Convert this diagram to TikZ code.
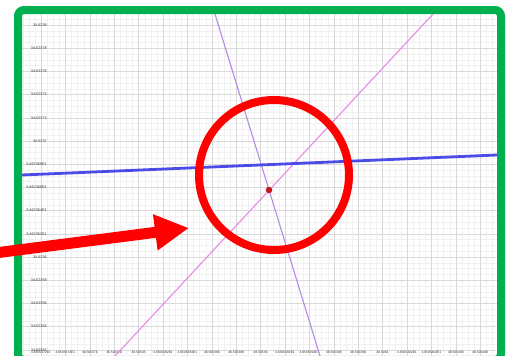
\documentclass[tikz,border=0pt]{standalone}
\usepackage{fontspec}
\setmainfont{Liberation Sans}
\usetikzlibrary{arrows.meta}
\definecolor{frameg}{HTML}{00B050}
\definecolor{lineblue}{HTML}{4B4BE8}
\definecolor{linelav}{HTML}{B48CE6}
\definecolor{linepink}{HTML}{E68CE6}
\definecolor{ptred}{HTML}{C8141E}
\definecolor{gmaj}{HTML}{D9D9D9}
\definecolor{gmin}{HTML}{F1F1F1}
\tikzset{
  ylab/.style={font=\fontsize{3.8}{4}\selectfont, text=black!80, anchor=east, inner sep=0pt},
  xlab/.style={font=\fontsize{3.3}{4}\selectfont, text=black!80, anchor=center, inner sep=0pt},
  framebox/.style={draw=frameg, line width=8pt, rounded corners=6pt},
}
\begin{document}
\begin{tikzpicture}[x=1pt,y=-1pt]
\useasboundingbox (0,0) rectangle (509,356);
\fill[white] (0,0) rectangle (509,356);
% grid
\begin{scope}
\clip (22,14) rectangle (497,356);
\foreach \i in {-8,...,80} {
  \draw[gmin, line width=0.4pt] ({41+24.4*\i/4},14) -- ({41+24.4*\i/4},356);
}
\foreach \j in {-4,...,60} {
  \draw[gmin, line width=0.4pt] (22,{25+23.2*\j/4}) -- (497,{25+23.2*\j/4});
}
\foreach \i in {0,...,18} {
  \draw[gmaj, line width=0.6pt] ({41+24.4*\i},14) -- ({41+24.4*\i},356);
}
\foreach \j in {0,...,14} {
  \draw[gmaj, line width=0.6pt] (22,{25+23.2*\j}) -- (497,{25+23.2*\j});
}
\end{scope}
% y labels
\foreach \t [count=\j from 0] in {34.6238,34.62378,34.62376,34.62374,34.62372,34.6237,3.462368E1,3.462366E1,3.462364E1,3.462362E1,34.6236,34.62358,34.62356,34.62354,34.62352} {
  \node[ylab] (yl\j) at (47,{25+23.2*\j}) {\t};
}
% x labels
\foreach \t [count=\i from 0] in {4.6505372E1,4.6505374E1,46.505376,46.505378,46.50538,4.6505382E1,4.6505384E1,46.505386,46.505388,46.50539,4.6505392E1,4.6505394E1,46.505396,46.505398,46.5054,4.6505402E1,4.6505404E1,46.505406,46.505408} {
  \node[xlab] (xl\i) at ({41+24.4*\i},352.5) {\t};
}
% lines
\coordinate (b1) at (22,175);
\coordinate (b2) at (497,155);
\coordinate (s1) at (215,14);
\coordinate (s2) at (320,356);
\coordinate (d1) at (433,14);
\coordinate (d2) at (115,356);
\draw[linelav, line width=1.1pt] (s1) -- (s2);
\draw[linepink, line width=1.1pt] (d1) -- (d2);
\draw[lineblue, line width=2.8pt] (b1) -- (b2);
\node[circle, fill=ptred, inner sep=0pt, minimum size=6.5pt] (C) at (269,190) {};
\node[font=\fontsize{4}{4}\selectfont, text=red!35, inner sep=0pt] (Clab) at (272,183) {C};
% red circle
\node[circle, draw=red, line width=8pt, minimum size=150pt, inner sep=0pt] (ring) at (274,175) {};
% frame
\draw[framebox] (18,10) rectangle (501,360);
% arrow
\coordinate (a0) at (-5,253);
\coordinate (a1) at (189,228);
\draw[red, line width=11pt, -{Triangle[length=34pt,width=34pt]}] (a0) -- (a1);
\end{tikzpicture}
\end{document}
